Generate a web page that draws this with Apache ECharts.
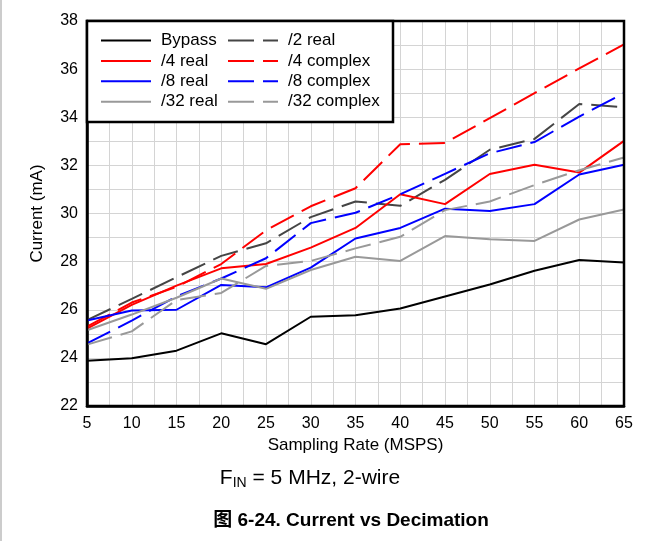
<!DOCTYPE html>
<html>
<head>
<meta charset="utf-8">
<script src="https://cdn.jsdelivr.net/npm/echarts@6/dist/echarts.min.js"></script>
<style>
html,body{margin:0;padding:0;background:#fff;}
#chart{width:663px;height:541px;}
</style>
</head>
<body>
<div id="chart"></div>
<script>
const rates = [5, 10, 15, 20, 25, 30, 35, 40, 45, 50, 55, 60, 65];
const bypass     = [23.88, 23.98, 24.30, 25.02, 24.57, 25.71, 25.77, 26.05, 26.55, 27.05, 27.62, 28.07, 27.96];
const div2Real   = [25.57, 26.45, 27.35, 28.24, 28.76, 29.85, 30.50, 30.32, 31.40, 32.65, 33.10, 34.55, 34.42];
const div4Real   = [25.22, 26.20, 27.00, 27.72, 27.90, 28.58, 29.40, 30.80, 30.39, 31.64, 32.03, 31.70, 33.02];
const div4Cplx   = [25.30, 26.30, 26.95, 27.90, 29.30, 30.30, 31.05, 32.88, 32.93, 33.96, 35.00, 36.03, 37.03];
const div8Real   = [25.55, 25.97, 26.00, 27.03, 26.93, 27.75, 28.96, 29.40, 30.20, 30.10, 30.39, 31.62, 32.03];
const div8Cplx   = [24.60, 25.55, 26.55, 27.30, 28.14, 29.60, 30.03, 30.80, 31.65, 32.50, 32.97, 34.03, 35.00];
const div32Real  = [25.15, 25.80, 26.50, 27.30, 26.87, 27.65, 28.20, 28.03, 29.06, 28.93, 28.86, 29.75, 30.17];
const div32Cplx  = [24.55, 25.10, 26.40, 26.70, 27.82, 28.03, 28.55, 29.03, 30.14, 30.50, 31.18, 31.80, 32.33];

const FONT = 'Liberation Sans';
const DASH = [26, 9];

function pairs(ys){ return rates.map((x,i)=>[x, ys[i]]); }
function mk(name, ys, color, dashed){
  return {
    name, type:'line', data: pairs(ys), symbol:'none', z: 3,
    lineStyle:{color, width:2, type: dashed ? DASH : 'solid'},
    itemStyle:{color}
  };
}

const chart = echarts.init(document.getElementById('chart'), null, {renderer:'canvas'});
const legendCommon = {
  orient:'vertical', itemWidth:50, itemHeight:14, itemGap:3.4, z:20, padding:0,
  itemStyle:{color:'rgba(0,0,0,0)', borderColor:'rgba(0,0,0,0)', borderWidth:0},
  textStyle:{fontFamily:FONT, fontSize:17, color:'#000', padding:[0,0,0,5]},
  inactiveColor:'#000'
};
chart.setOption({
  animation:false,
  backgroundColor:'#fff',
  grid:{left:87, right:39, top:21, bottom:135, show:true, borderColor:'#000', borderWidth:2.5, z:4},
  xAxis:{
    type:'value', min:5, max:65, interval:5,
    axisLine:{show:true, lineStyle:{color:'#000', width:2.5}},
    axisTick:{show:false},
    axisLabel:{fontFamily:FONT, fontSize:16, color:'#000', margin:10},
    splitLine:{show:true, lineStyle:{color:'#d4d4d4', width:1}},
    minorTick:{show:false, splitNumber:2},
    minorSplitLine:{show:true, lineStyle:{color:'#d4d4d4', width:1}},
    name:'Sampling Rate (MSPS)', nameLocation:'middle', nameGap:27,
    nameTextStyle:{fontFamily:FONT, fontSize:17, color:'#000'}
  },
  yAxis:{
    type:'value', min:22, max:38, interval:2,
    axisLine:{show:true, lineStyle:{color:'#000', width:2.5}},
    axisTick:{show:false},
    axisLabel:{fontFamily:FONT, fontSize:16, color:'#000', margin:9},
    splitLine:{show:true, lineStyle:{color:'#d4d4d4', width:1}},
    minorTick:{show:false, splitNumber:2},
    minorSplitLine:{show:true, lineStyle:{color:'#d4d4d4', width:1}},
    name:'Current (mA)', nameLocation:'middle', nameGap:41, nameRotate:90,
    nameTextStyle:{fontFamily:FONT, fontSize:17, color:'#000'}
  },
  legend:[
    Object.assign({}, legendCommon, {left:100, top:32, data:['Bypass','/4 real','/8 real','/32 real']}),
    Object.assign({}, legendCommon, {left:227, top:32, data:['/2 real','/4 complex','/8 complex','/32 complex']})
  ],
  graphic:[
    {type:'rect', z:10, shape:{x:87, y:21, width:306, height:101},
     style:{fill:'#fff', stroke:'#000', lineWidth:2.5}},
    {type:'text', z:10, x:310, y:478,
     style:{rich:{m:{fontFamily:FONT, fontSize:21, fill:'#000'}, s:{fontFamily:FONT, fontSize:14, fill:'#000', padding:[10,0,0,0]}},
            text:'{m|F}{s|IN}{m| = 5 MHz, 2-wire}', align:'center', verticalAlign:'middle'}},
    {type:'text', z:10, x:351, y:521,
     style:{text:'图 6-24. Current vs Decimation', font:'bold 19px "Liberation Sans", "Noto Sans CJK SC", sans-serif', fill:'#000', align:'center', verticalAlign:'middle'}},
    {type:'line', z:10, shape:{x1:1, y1:0, x2:1, y2:541}, style:{stroke:'#bbb', lineWidth:1.5}}
  ],
  series:[
    mk('Bypass', bypass, '#000000', false),
    mk('/2 real', div2Real, '#454545', true),
    mk('/4 real', div4Real, '#ff0000', false),
    mk('/4 complex', div4Cplx, '#ff0000', true),
    mk('/8 real', div8Real, '#0000ff', false),
    mk('/8 complex', div8Cplx, '#0000ff', true),
    mk('/32 real', div32Real, '#999999', false),
    mk('/32 complex', div32Cplx, '#999999', true)
  ]
});
</script>
</body>
</html>
